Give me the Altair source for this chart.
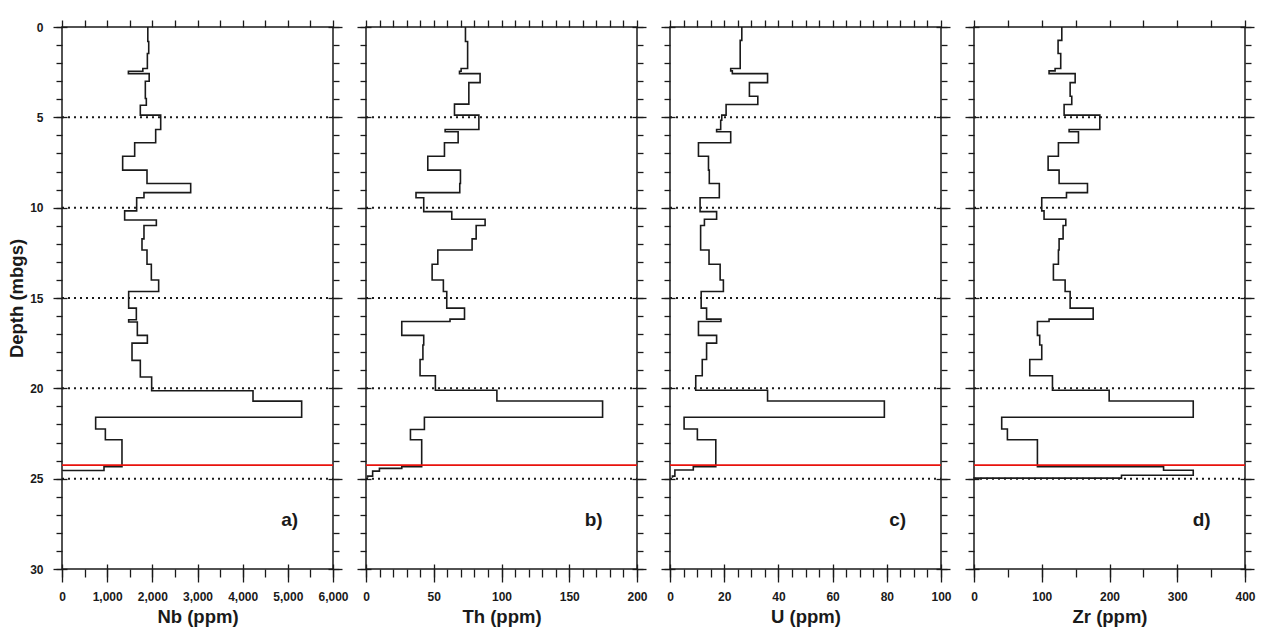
import altair as alt
import pandas as pd

# ---------------- data ----------------
# tops of each sampled interval (m below ground surface) and the value in that interval
nb_top = [0, 0.8, 1.47, 2.3, 2.45, 2.58, 3.0, 3.96, 4.33, 4.88,
          5.67, 6.41, 7.15, 7.92, 8.66, 9.17, 9.45, 10.18, 10.68, 10.99,
          11.73, 12.34, 13.13, 14.0, 14.64, 15.56, 16.2, 16.33, 17.07, 17.5,
          18.45, 19.37, 20.13, 20.71, 21.6, 22.25, 22.85, 24.34, 24.55]
nb_val = [1900, 1920, 1890, 1790, 1470, 1930, 1845, 1867, 1734, 2185,
          2074, 1609, 1343, 1882, 2849, 1815, 1653, 1387, 2089, 1815,
          1771, 1882, 1978, 2140, 1476, 1646, 1476, 1668, 1890, 1550,
          1734, 1985, 4229, 5306, 745, 960, 1328, 930, 20]
nb_end = 24.58

th_top = [0, 0.8, 2.3, 2.45, 2.58, 3.08, 4.27, 4.88, 5.67, 5.8,
          6.41, 7.15, 7.92, 8.66, 9.17, 9.45, 10.22, 10.64, 10.99, 11.73,
          12.34, 13.13, 14.0, 14.64, 15.56, 16.17, 16.3, 17.07, 17.6, 18.4,
          19.3, 20.11, 20.7, 21.6, 22.28, 22.85, 24.34, 24.43, 24.58, 24.86]
th_val = [73.4, 75.0, 70.2, 69.0, 84.2, 75.9, 65.3, 83.3, 58.4, 68.0,
          57.9, 45.6, 69.7, 69.2, 36.9, 42.6, 63.3, 87.9, 81.3, 78.3,
          53.0, 48.8, 57.1, 59.6, 72.7, 62.0, 26.4, 42.6, 42.0, 39.9,
          51.2, 96.6, 174.6, 43.1, 32.8, 41.1, 26.4, 9.9, 4.9, 1.2]
th_end = 24.95

u_top = [0, 0.74, 2.3, 2.43, 2.58, 3.08, 3.83, 4.29, 4.88, 5.16,
         5.67, 5.8, 6.41, 7.15, 7.92, 8.66, 9.45, 10.22, 10.64, 10.99,
         12.34, 13.13, 14.0, 14.64, 15.56, 16.17, 16.3, 17.07, 17.5, 18.4,
         19.3, 20.11, 20.7, 21.6, 22.25, 22.85, 24.34, 24.52, 24.86]
u_val = [26.5, 25.9, 22.4, 23.0, 36.0, 29.3, 32.4, 20.7, 19.1, 18.7,
         17.2, 22.4, 10.5, 14.2, 14.5, 18.2, 11.1, 17.2, 12.7, 11.3,
         14.4, 18.5, 19.7, 11.5, 13.5, 18.8, 10.5, 17.2, 13.5, 11.9,
         9.5, 36.0, 79.1, 5.2, 10.1, 16.9, 8.6, 1.8, 0.9]
u_end = 24.95

zr_top = [0, 0.74, 1.47, 2.3, 2.43, 2.58, 3.08, 3.83, 4.29, 4.88,
          5.67, 5.8, 6.41, 7.15, 7.92, 8.66, 9.17, 9.45, 10.18, 10.64,
          10.99, 11.73, 12.34, 13.13, 14.0, 14.64, 15.56, 16.17, 16.3, 17.07,
          17.6, 18.4, 19.3, 20.11, 20.7, 21.6, 22.25, 22.85, 24.34, 24.53,
          24.81, 24.97]
zr_val = [129.6, 124.1, 128.0, 119.7, 110.8, 149.3, 141.9, 144.3, 133.0, 185.7,
          140.4, 154.2, 124.6, 109.4, 125.6, 167.5, 136.5, 100.0, 103.4, 135.5,
          131.5, 125.6, 124.6, 117.2, 134.5, 141.9, 175.9, 110.8, 93.6, 97.0,
          100.0, 82.3, 115.8, 199.5, 323.6, 40.9, 49.3, 93.6, 279.8, 323.6,
          217.7, 0.0]
zr_end = 24.99

titles = ["Nb (ppm)", "Th (ppm)", "U (ppm)", "Zr (ppm)"]
panel_labels = ["a)", "b)", "c)", "d)"]
x_max = [6000, 200, 100, 400]
x_major = [1000, 50, 20, 100]
x_minor = [500, 10, 5, 50]

depth_domain = [0, 30]
depth_major = [0, 5, 10, 15, 20, 25, 30]
depth_minor = list(range(0, 31))
dotted_depths = [5, 10, 15, 20, 25]
contact_depth = [24.25]
label_depth = 27.3
label_frac = 0.84

FONT = "Liberation Sans"
INK = "#1a1a1a"
RED = "#e8120c"


def step_frame(tops, vals, end):
    bottoms = tops[1:] + [end]
    rows = []
    for i, (t, b, v) in enumerate(zip(tops, bottoms, vals)):
        rows.append({"seq": 2 * i, "depth": t, "value": v})
        rows.append({"seq": 2 * i + 1, "depth": b, "value": v})
    return pd.DataFrame(rows)


def axis(**kw):
    base = dict(grid=False, domain=False, tickColor=INK, tickWidth=1.3,
                labelFont=FONT, labelFontSize=12, labelFontWeight="bold",
                labelColor=INK, labelFlush=False, labelOverlap=False,
                titleFont=FONT, titleFontSize=18.5, titleFontWeight="bold",
                titleColor=INK)
    base.update(kw)
    return alt.Axis(**base)


def panel(i, tops, vals, end):
    first = i == 0
    dmax = x_max[i]
    xs = alt.Scale(domain=[0, dmax], nice=False, zero=False)
    ys = alt.Scale(domain=depth_domain, reverse=True, nice=False, zero=False)
    maj = list(range(0, dmax + 1, x_major[i]))
    mnr = list(range(0, dmax + 1, x_minor[i]))

    steps = step_frame(tops, vals, end)
    line = alt.Chart(steps).mark_line(color=INK, strokeWidth=1.6).encode(
        x=alt.X("value:Q", scale=xs,
                axis=axis(orient="bottom", values=maj, format=",d", tickSize=18,
                          offset=-5, labelPadding=9, title=titles[i], titlePadding=5)),
        y=alt.Y("depth:Q", scale=ys,
                axis=axis(orient="left", values=depth_major, tickSize=14, offset=-5,
                          labels=first, labelPadding=10, titlePadding=3,
                          title="Depth (mbgs)" if first else None)),
        order="seq:Q",
    )

    dots_df = pd.DataFrame({"depth": dotted_depths, "x0": 0, "x1": dmax})
    dots = alt.Chart(dots_df).mark_rule(color=INK, strokeWidth=2, strokeDash=[2, 4]).encode(
        x=alt.X("x0:Q", scale=xs,
                axis=axis(orient="top", values=mnr, tickSize=7, labels=False, title=None)),
        x2="x1:Q",
        y=alt.Y("depth:Q", scale=ys,
                axis=axis(orient="left", values=depth_minor, tickSize=6, labels=False, title=None)),
    )

    red_df = pd.DataFrame({"depth": contact_depth, "x0": 0, "x1": dmax})
    red = alt.Chart(red_df).mark_rule(color=RED, strokeWidth=1.8).encode(
        x=alt.X("x0:Q", scale=xs,
                axis=axis(orient="bottom", values=mnr, tickSize=8, labels=False, title=None)),
        x2="x1:Q",
        y=alt.Y("depth:Q", scale=ys,
                axis=axis(orient="right", values=depth_minor, tickSize=6, labels=False, title=None)),
    )

    lab_df = pd.DataFrame({"x": [label_frac * dmax], "depth": [label_depth],
                           "label": [panel_labels[i]]})
    txt = alt.Chart(lab_df).mark_text(font=FONT, fontSize=19, fontWeight="bold", color=INK,
                                      align="center", baseline="middle").encode(
        x=alt.X("x:Q", scale=xs, axis=None),
        y=alt.Y("depth:Q", scale=ys,
                axis=axis(orient="right", values=depth_major, tickSize=14, offset=-5,
                          labels=False, title=None)),
        text="label:N",
    )

    return alt.layer(line, dots, red, txt).resolve_axis(x="independent", y="independent").properties(
        width=271, height=542)


series = [(nb_top, nb_val, nb_end), (th_top, th_val, th_end),
          (u_top, u_val, u_end), (zr_top, zr_val, zr_end)]
panels = [panel(i, *s) for i, s in enumerate(series)]

chart = alt.hconcat(*panels, spacing=33, bounds="flush").properties(
    padding={"left": 6, "top": 18, "right": 5, "bottom": 5},
    background="white",
).configure_view(stroke=INK, strokeWidth=1.5)

chart.save("out.html", embed_options={"renderer": "svg", "actions": False})
